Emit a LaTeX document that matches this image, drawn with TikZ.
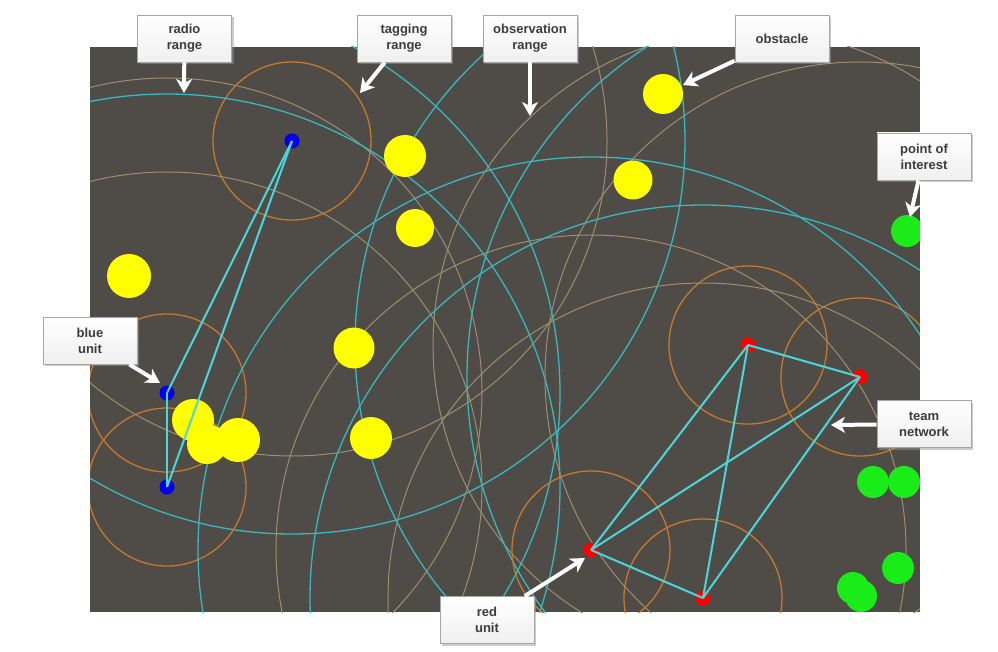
\documentclass[tikz,border=0pt]{standalone}
\usepackage{fontspec}
\usetikzlibrary{arrows.meta,shadows,backgrounds}
\newfontfamily\notefont{Liberation Sans}
\definecolor{uField}{HTML}{4F4B47}
\definecolor{uRadio}{HTML}{38B8C0}
\definecolor{uObs}{HTML}{9C9070}
\definecolor{uTag}{HTML}{C47A2C}
\definecolor{uLink}{HTML}{4AD6DA}
\definecolor{uObst}{HTML}{FFFF00}
\definecolor{uPoi}{HTML}{19EC19}
\definecolor{uBlue}{HTML}{0000E8}
\definecolor{uRed}{HTML}{FF0000}
\definecolor{uText}{HTML}{3C3C3C}
\tikzset{
  radioring/.style={draw=uRadio, line width=1.3pt},
  obsring/.style={draw=uObs, line width=1pt},
  tagring/.style={draw=uTag, line width=1.3pt},
  netlink/.style={draw=uLink, line width=2pt},
  obstacle/.style={circle, fill=uObst, inner sep=0pt},
  poi/.style={circle, fill=uPoi, minimum size=32pt, inner sep=0pt},
  unit/.style={circle, minimum size=15pt, inner sep=0pt},
  blueunit/.style={unit, fill=uBlue},
  redunit/.style={unit, fill=uRed},
  % grey label boxes round the field
  notebox/.style={draw=gray!70, line width=0.8pt, top color=white, bottom color=gray!12,
                  minimum width=94pt, minimum height=47pt, align=center, text=uText,
                  font=\notefont\bfseries\fontsize{13}{16}\selectfont,
                  drop shadow={shadow xshift=2pt, shadow yshift=-2pt, fill=black!40, opacity=.5}},
  pointer/.style={draw=white, line width=4pt, -{Stealth[length=14pt,width=16pt,inset=4pt]}},
}

\begin{document}
\begin{tikzpicture}[x=1pt, y=-1pt]
\useasboundingbox (0,0) rectangle (998,652);

% units
\node[blueunit] (b1) at (292,141) {};
\node[blueunit] (b2) at (167,393) {};
\node[blueunit] (b3) at (167,487) {};
\node[redunit] (r1) at (748,345) {};
\node[redunit] (r2) at (860,377) {};
\node[redunit] (r3) at (591,550) {};
\node[redunit] (r4) at (703,598) {};

\begin{scope}[on background layer]
  \fill[uField] (90,47) rectangle (920,612);
  \clip (90,47) rectangle (920,612);
  \foreach \u in {b1,b2,b3,r1,r2,r3,r4} {
    \draw[radioring] (\u) circle (393);
    \draw[obsring] (\u) circle (315);
    \draw[tagring] (\u) circle (79);
  }
  % obstacles
  \foreach \x/\y/\d [count=\i] in {663/94/40, 405/156/42, 633/180/39, 415/228/38,
      129/276/44, 354/348/41, 371/438/42, 193/420/42, 207/444/40, 238/440/44}
    \node[obstacle, minimum size=\d pt] (o\i) at (\x,\y) {};
  % points of interest
  \foreach \x/\y [count=\i] in {907/231, 873/482, 904/482, 898/568, 853/588, 861/596}
    \node[poi] (p\i) at (\x,\y) {};
\end{scope}

% team network
\foreach \a/\b in {b1/b2, b1/b3, b2/b3, r1/r2, r1/r3, r1/r4, r2/r3, r2/r4, r3/r4}
  \draw[netlink] (\a.center) -- (\b.center);

% labels
\node[notebox] (lradio) at (184.5,38.5) {radio\\range};
\node[notebox] (ltag) at (404,38.5) {tagging\\range};
\node[notebox] (lobs) at (530,38.5) {observation\\range};
\node[notebox] (lobst) at (782,38.5) {obstacle};
\node[notebox] (lpoi) at (924,156.5) {point of\\interest};
\node[notebox] (lblue) at (90,340.5) {blue\\unit};
\node[notebox] (lred) at (487,620) {red\\unit};
\node[notebox] (lteam) at (924,424) {team\\network};

\coordinate (tradio) at (184,93);
\coordinate (ttag) at (360,93);
\coordinate (tobs) at (530,116);
\coordinate (tobst) at (683,85);
\coordinate (tpoi) at (910,217);
\coordinate (tblue) at (160,383);
\coordinate (tred) at (585,558);
\coordinate (tteam) at (831,425);

\draw[pointer] (lradio) -- (tradio);
\draw[pointer] (ltag) -- (ttag);
\draw[pointer] (lobs) -- (tobs);
\draw[pointer] (lobst) -- (tobst);
\draw[pointer] (lpoi) -- (tpoi);
\draw[pointer] (lblue) -- (tblue);
\draw[pointer] (lred) -- (tred);
\draw[pointer] (lteam) -- (tteam);

\end{tikzpicture}
\end{document}
